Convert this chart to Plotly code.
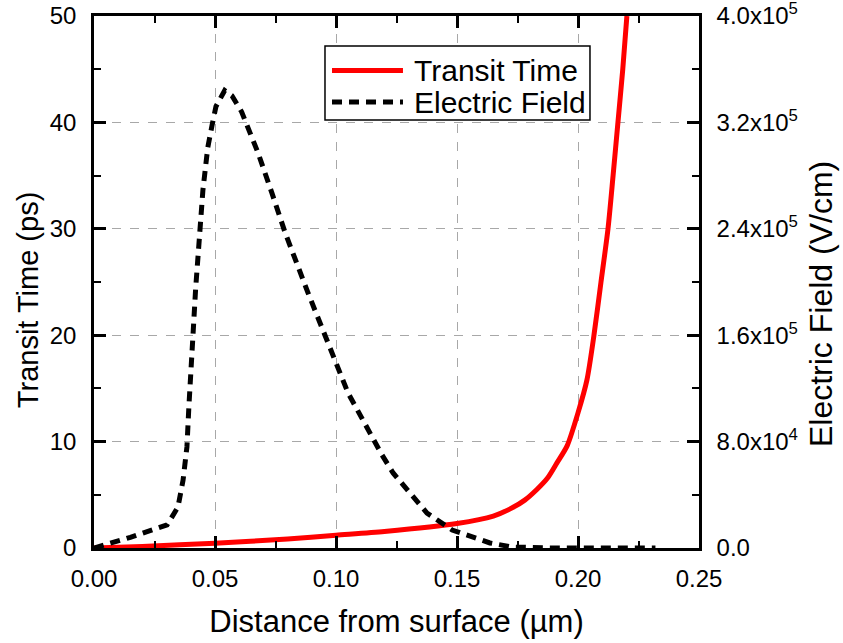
import plotly.graph_objects as go

# Transit time (ps) vs distance (um)
tt_x = [0, 0.02, 0.05, 0.08, 0.10, 0.12, 0.15, 0.165, 0.173, 0.178, 0.183, 0.1875, 0.1913,
        0.1955, 0.2, 0.2037, 0.2066, 0.2095, 0.2124, 0.2145, 0.2165, 0.2185, 0.2202]
tt_y = [0, 0.15, 0.45, 0.85, 1.2, 1.55, 2.3, 3.0, 3.8, 4.5, 5.5, 6.6, 8.0,
        9.6, 12.7, 15.8, 20, 25, 30, 35, 40, 45, 50]

# Electric field (V/cm) vs distance (um)
ef_x = [0, 0.015, 0.0302, 0.0347, 0.0368, 0.0384, 0.0392, 0.0397, 0.042, 0.045, 0.0459, 0.047,
        0.0488, 0.0504, 0.054, 0.057, 0.061, 0.0645, 0.0678, 0.0735, 0.079, 0.0884, 0.0955,
        0.105, 0.119, 0.1236, 0.1376, 0.148, 0.1636, 0.173, 0.19, 0.21, 0.232]
ef_y = [0, 8000, 17300, 30800, 51000, 76000, 106000, 124000, 195000, 269000, 286000, 301000,
        318000, 332000, 344000, 340000, 328000, 313000, 297000, 267000, 237000, 192000, 159000,
        116500, 70000, 56400, 26300, 13500, 3800, 700, 0, 0, 0]

x_ticks = [0.00, 0.05, 0.10, 0.15, 0.20, 0.25]
x_ticktext = ["0.00", "0.05", "0.10", "0.15", "0.20", "0.25"]
y_ticks = [0, 10, 20, 30, 40, 50]
y2_ticks = [0, 80000, 160000, 240000, 320000, 400000]
y2_ticktext = ["0.0", "8.0x10<sup>4</sup>", "1.6x10<sup>5</sup>", "2.4x10<sup>5</sup>",
               "3.2x10<sup>5</sup>", "4.0x10<sup>5</sup>"]
series_names = ["Transit Time", "Electric Field"]
x_title = "Distance from surface (µm)"
y_title = "Transit Time (ps)"
y2_title = "Electric Field (V/cm)"

FONT = "Arial, Liberation Sans, sans-serif"
RED = "#ff0000"
EF_DASH = "10px,7px"

fig = go.Figure()
fig.add_trace(go.Scatter(x=tt_x, y=tt_y, mode="lines", name=series_names[0],
                         line=dict(color=RED, width=5, shape="spline", smoothing=0.7),
                         showlegend=False))
fig.add_trace(go.Scatter(x=ef_x, y=ef_y, mode="lines", name=series_names[1], yaxis="y2",
                         line=dict(color="black", width=5, dash=EF_DASH), showlegend=False))

axis_common = dict(showline=True, linecolor="black", linewidth=2.5, ticks="inside",
                   ticklen=12, tickwidth=2.5, tickcolor="black", zeroline=False,
                   automargin=False, ticklabeloverflow="allow",
                   tickfont=dict(family=FONT, size=24, color="black"))

# Legend (box, samples, labels) drawn in paper coordinates
lx0, lx1, ly0, ly1 = 0.3818, 0.8198, 0.8045, 0.9436
sx0, sx1, tx = 0.3934, 0.5107, 0.5256
rows_y = [0.8976, 0.8383]
shapes = [
    dict(type="rect", xref="paper", yref="paper", x0=lx0, x1=lx1, y0=ly0, y1=ly1,
         line=dict(color="black", width=1.5), fillcolor="white", layer="above"),
    dict(type="line", xref="paper", yref="paper", x0=sx0, x1=sx1, y0=rows_y[0], y1=rows_y[0],
         line=dict(color=RED, width=5), layer="above"),
    dict(type="line", xref="paper", yref="paper", x0=sx0, x1=sx1, y0=rows_y[1], y1=rows_y[1],
         line=dict(color="black", width=5, dash=EF_DASH), layer="above"),
]
annotations = [
    dict(xref="paper", yref="paper", x=tx, y=ry, text=name, showarrow=False,
         xanchor="left", yanchor="middle", font=dict(family=FONT, size=30, color="black"))
    for name, ry in zip(series_names, rows_y)
]
# Vertical axis titles
annotations.append(dict(xref="paper", yref="paper", x=-0.109, y=0.466, text=y_title,
                        showarrow=False, textangle=-90, xanchor="center", yanchor="middle",
                        font=dict(family=FONT, size=29, color="black")))
annotations.append(dict(xref="paper", yref="paper", x=1.2017, y=0.4586, text=y2_title,
                        showarrow=False, textangle=-90, xanchor="center", yanchor="middle",
                        font=dict(family=FONT, size=32, color="black")))

fig.update_layout(
    width=843, height=643,
    margin=dict(l=94, r=144, t=16, b=95),
    plot_bgcolor="white", paper_bgcolor="white",
    showlegend=False,
    shapes=shapes,
    annotations=annotations,
    xaxis=dict(range=[0, 0.25], tickvals=x_ticks, ticktext=x_ticktext, mirror="ticks",
               showgrid=True, gridcolor="#a8a8a8", griddash="dash", gridwidth=1,
               minor=dict(dtick=0.025, tick0=0, ticks="inside", ticklen=7, tickwidth=2,
                          tickcolor="black", showgrid=False),
               title=dict(text=x_title, standoff=20,
                          font=dict(family=FONT, size=31, color="black")),
               ticklabelstandoff=7,
               **axis_common),
    yaxis=dict(range=[0, 50], tickvals=y_ticks,
               showgrid=True, gridcolor="#a8a8a8", griddash="dash", gridwidth=1,
               minor=dict(dtick=5, tick0=0, ticks="inside", ticklen=7, tickwidth=2,
                          tickcolor="black", showgrid=False),
               ticklabelstandoff=10,
               **axis_common),
    yaxis2=dict(range=[0, 400000], tickvals=y2_ticks, ticktext=y2_ticktext,
                overlaying="y", side="right", showgrid=False,
                minor=dict(dtick=40000, tick0=0, ticks="inside", ticklen=7, tickwidth=2,
                           tickcolor="black", showgrid=False),
                ticklabelstandoff=10,
                **axis_common),
)

fig.write_html("out.html")
